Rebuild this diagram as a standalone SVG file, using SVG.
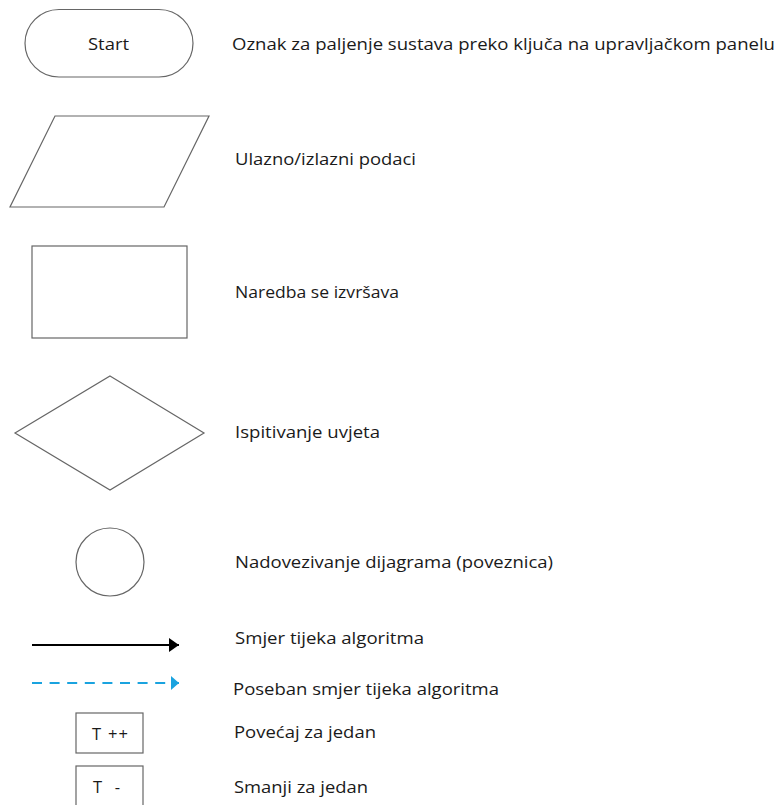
<svg xmlns="http://www.w3.org/2000/svg" width="781" height="805" viewBox="0 0 781 805">
<defs>
<style>
.s{fill:#fff;stroke:#666;stroke-width:1.2}
.t{font-family:"Open Sans","Noto Sans","Liberation Sans",sans-serif;font-size:16.5px;fill:#1a1a1a}
</style>
<marker id="ab" markerUnits="userSpaceOnUse" markerWidth="12" markerHeight="16" refX="10" refY="7" orient="auto"><path d="M0,0 L10,7 L0,14 Z" fill="#000"/></marker>
<marker id="au" markerUnits="userSpaceOnUse" markerWidth="12" markerHeight="16" refX="8" refY="7" orient="auto"><path d="M0,0 L8,7 L0,14 Z" fill="#1aa3df"/></marker>
</defs>
<rect width="781" height="805" fill="#fff"/>
<g id="start">
<rect class="s" x="25" y="9.5" width="168" height="67.5" rx="34" ry="34"/>
<text class="t" x="88" y="50" textLength="41" lengthAdjust="spacingAndGlyphs">Start</text>
</g>
<g id="io"><polygon class="s" points="55,116 209,116 164,207 10,207"/></g>
<g id="process"><rect class="s" x="32" y="246" width="155" height="92"/></g>
<g id="decision"><polygon class="s" points="110,376 204,433 110,490 15,433"/></g>
<g id="connector"><circle class="s" cx="110" cy="562" r="34"/></g>
<g id="inc"><rect class="s" x="76" y="713" width="67" height="40"/><text class="t" x="92" y="740" textLength="36" lengthAdjust="spacing">T ++</text></g>
<g id="dec"><rect class="s" x="76" y="766" width="67" height="45"/><text class="t" x="93" y="793" textLength="27" lengthAdjust="spacing">T -</text></g>
<g id="connectors">
<line x1="32" y1="645" x2="179" y2="645" stroke="#000" stroke-width="2" marker-end="url(#ab)"/>
<line x1="32" y1="683" x2="179" y2="683" stroke="#1aa3df" stroke-width="2" stroke-dasharray="10 7.6" marker-end="url(#au)"/>
</g>
<g id="labels">
<text class="t" x="232" y="50" textLength="543" lengthAdjust="spacingAndGlyphs">Oznak za paljenje sustava preko ključa na upravljačkom panelu</text>
<text class="t" x="235" y="165" textLength="181" lengthAdjust="spacingAndGlyphs">Ulazno/izlazni podaci</text>
<text class="t" x="235" y="298" textLength="164" lengthAdjust="spacingAndGlyphs">Naredba se izvršava</text>
<text class="t" x="235" y="438" textLength="145" lengthAdjust="spacingAndGlyphs">Ispitivanje uvjeta</text>
<text class="t" x="235" y="568" textLength="318" lengthAdjust="spacingAndGlyphs">Nadovezivanje dijagrama (poveznica)</text>
<text class="t" x="235" y="644" textLength="189" lengthAdjust="spacingAndGlyphs">Smjer tijeka algoritma</text>
<text class="t" x="233" y="695" textLength="266" lengthAdjust="spacingAndGlyphs">Poseban smjer tijeka algoritma</text>
<text class="t" x="234" y="738" textLength="142" lengthAdjust="spacingAndGlyphs">Povećaj za jedan</text>
<text class="t" x="234" y="793" textLength="134" lengthAdjust="spacingAndGlyphs">Smanji za jedan</text>
</g>
</svg>
